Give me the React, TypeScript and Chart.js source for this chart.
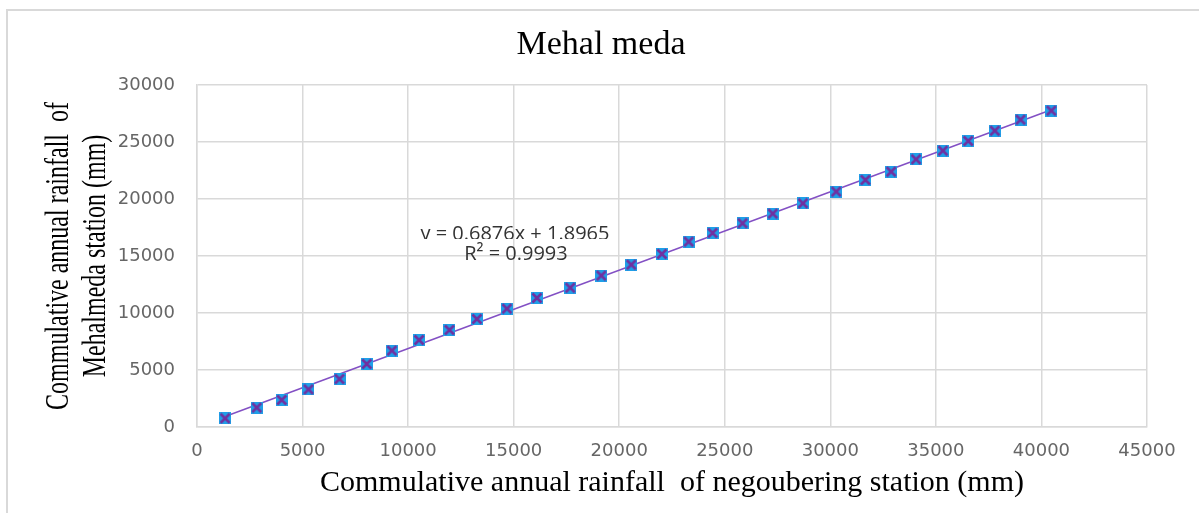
import React, { useEffect, useRef } from "react";
import { Chart, registerables } from "chart.js";

Chart.register(...registerables);

// Cumulative annual rainfall (mm), one pair of values per year
const negouberingCumulative = [
  1330, 2830, 4010, 5280, 6750, 8040, 9230, 10520, 11960, 13260,
  14680, 16100, 17680, 19150, 20570, 22020, 23290, 24420, 25840, 27270,
  28700, 30280, 31660, 32880, 34060, 35330, 36530, 37790, 39010, 40470,
];
const mehalmedaCumulative = [
  760, 1700, 2370, 3300, 4210, 5530, 6700, 7630, 8510, 9470,
  10380, 11320, 12220, 13280, 14240, 15180, 16260, 17020, 17870, 18720,
  19620, 20650, 21670, 22400, 23480, 24240, 25090, 25990, 26960, 27750,
];

// Linear fit of the double-mass curve
const trendSlope = 0.6876;
const trendIntercept = 1.8965;
const trendR2 = 0.9993;

// Axis ranges and tick spacing
const xAxisMax = 45000;
const yAxisMax = 30000;
const tickStep = 5000;

const chartTitle = "Mehal meda";
const xAxisTitle = "Commulative annual rainfall  of negoubering station (mm)";
const yAxisTitleLines = ["Commulative annual rainfall  of", "Mehalmeda station (mm)"];

const GRID = "#d9d9d9";
const TICK_COLOR = "#666666";

// Blue square with a purple cross, used as the point marker
function makeMarker(): HTMLCanvasElement {
  const c = document.createElement("canvas");
  c.width = 12;
  c.height = 12;
  const g = c.getContext("2d")!;
  g.fillStyle = "#1f9fe8";
  g.fillRect(0, 0, 12, 12);
  g.strokeStyle = "#7030a0";
  g.lineWidth = 2.6;
  g.beginPath();
  g.moveTo(1.5, 1.5);
  g.lineTo(10.5, 10.5);
  g.moveTo(10.5, 1.5);
  g.lineTo(1.5, 10.5);
  g.stroke();
  return c;
}

// Frame, chart title, rotated y-axis title and the fit equation
const decorPlugin = {
  id: "decor",
  beforeDraw(chart: any) {
    const { ctx, width, height } = chart;
    ctx.save();
    ctx.fillStyle = "#ffffff";
    ctx.fillRect(0, 0, width, height);
    ctx.strokeStyle = GRID;
    ctx.lineWidth = 2;
    ctx.beginPath();
    ctx.moveTo(7, height);
    ctx.lineTo(7, 10);
    ctx.lineTo(width, 10);
    ctx.stroke();
    ctx.restore();
  },
  afterDatasetsDraw(chart: any) {
    const { ctx, scales } = chart;
    const px = scales.x.getPixelForValue(15060);
    const py = scales.y.getPixelForValue(16930);
    ctx.save();
    ctx.font = '20px "Open Sans"';
    ctx.fillStyle = "#333333";
    ctx.textAlign = "center";
    ctx.textBaseline = "middle";
    ctx.save();
    ctx.beginPath();
    ctx.rect(px - 150, py - 30, 300, 35);
    ctx.clip();
    ctx.fillText(`y = ${trendSlope}x + ${trendIntercept}`, px, py);
    ctx.restore();
    ctx.fillText(`R\u00B2 = ${trendR2}`, px + 1, py + 20);
    ctx.restore();
  },
  afterDraw(chart: any) {
    const { ctx, chartArea } = chart;
    ctx.save();
    ctx.fillStyle = "#000000";
    ctx.textAlign = "center";
    ctx.textBaseline = "middle";
    ctx.font = '34px "Liberation Serif"';
    ctx.fillText(chartTitle, 601, 45);

    const cy = (chartArea.top + chartArea.bottom) / 2;
    ctx.translate(68, cy);
    ctx.rotate(-Math.PI / 2);
    ctx.scale(1, 1.4);
    ctx.font = '24px "Liberation Serif"';
    ctx.textBaseline = "alphabetic";
    yAxisTitleLines.forEach((line, i) => {
      ctx.fillText(line, 0, (i * 37) / 1.4);
    });
    ctx.restore();
  },
};

export default function App() {
  const canvasRef = useRef<HTMLCanvasElement | null>(null);

  useEffect(() => {
    const canvas = canvasRef.current;
    if (!canvas) return;
    const marker = makeMarker();

    const points = negouberingCumulative.map((x, i) => ({ x, y: mehalmedaCumulative[i] }));
    const xFirst = negouberingCumulative[0];
    const xLast = negouberingCumulative[negouberingCumulative.length - 1];
    const trend = [
      { x: xFirst, y: trendSlope * xFirst + trendIntercept },
      { x: xLast, y: trendSlope * xLast + trendIntercept },
    ];

    const tickFont = { family: '"DejaVu Sans"', size: 18 };

    const chart = new Chart(canvas, {
      type: "scatter",
      data: {
        datasets: [
          {
            label: "Mehal meda",
            data: points,
            pointStyle: marker as any,
            pointRadius: 6,
            pointHoverRadius: 6,
            order: 0,
          },
          {
            label: "Linear fit",
            data: trend,
            showLine: true,
            borderColor: "#8350c4",
            borderWidth: 1.5,
            pointRadius: 0,
            pointHoverRadius: 0,
            order: 1,
          },
        ],
      },
      options: {
        responsive: false,
        animation: false,
        devicePixelRatio: 1,
        layout: { padding: { top: 85, left: 0, right: 52, bottom: 0 } },
        plugins: {
          legend: { display: false },
          tooltip: { enabled: false },
          title: { display: false },
        },
        scales: {
          x: {
            type: "linear",
            min: 0,
            max: xAxisMax,
            ticks: {
              stepSize: tickStep,
              font: tickFont,
              color: TICK_COLOR,
              padding: 14,
              maxRotation: 0,
              callback: (v: any) => String(v),
            },
            grid: { color: GRID, lineWidth: 1.5, drawTicks: false },
            border: { display: true, color: GRID, width: 1.5 },
            title: {
              display: true,
              text: xAxisTitle,
              color: "#000000",
              font: { family: '"Liberation Serif"', size: 30 },
              padding: { top: 0, bottom: 12 },
            },
            afterFit: (s: any) => {
              s.height = 86;
            },
          },
          y: {
            type: "linear",
            min: 0,
            max: yAxisMax,
            ticks: {
              stepSize: tickStep,
              font: tickFont,
              color: TICK_COLOR,
              padding: 22,
              callback: (v: any) => String(v),
            },
            grid: { color: GRID, lineWidth: 1.5, drawTicks: false },
            border: { display: true, color: GRID, width: 1.5 },
            afterFit: (s: any) => {
              s.width = 197;
            },
          },
        },
      },
      plugins: [decorPlugin],
    });

    return () => chart.destroy();
  }, []);

  return (
    <div style={{ position: "fixed", left: 0, top: 0, width: 1199, height: 513, background: "#fff" }}>
      <canvas ref={canvasRef} width={1199} height={513} style={{ display: "block" }} />
    </div>
  );
}
